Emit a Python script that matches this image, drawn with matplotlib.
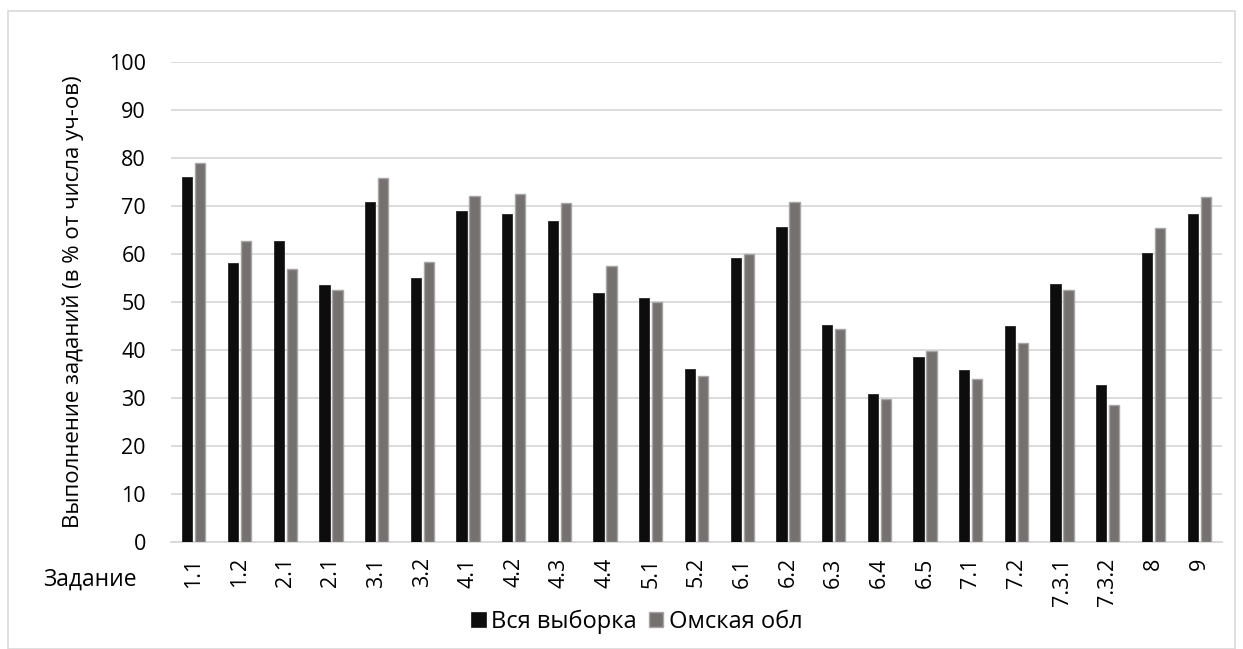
import matplotlib
matplotlib.use("Agg")
import matplotlib.pyplot as plt
import numpy as np
from matplotlib.patches import Rectangle

categories = ["1.1", "1.2", "2.1", "2.1", "3.1", "3.2", "4.1", "4.2", "4.3", "4.4",
              "5.1", "5.2", "6.1", "6.2", "6.3", "6.4", "6.5", "7.1", "7.2",
              "7.3.1", "7.3.2", "8", "9"]
vsya = [76.0, 58.1, 62.7, 53.6, 70.9, 55.1, 69.0, 68.4, 66.9, 51.9,
        50.8, 36.0, 59.1, 65.7, 45.2, 30.8, 38.5, 35.9, 45.0,
        53.7, 32.8, 60.3, 68.3]
omsk = [79.0, 62.8, 56.9, 52.5, 75.8, 58.4, 72.0, 72.4, 70.6, 57.6,
        50.1, 34.6, 60.1, 70.8, 44.4, 29.7, 39.7, 34.0, 41.4,
        52.5, 28.6, 65.5, 71.9]
series_names = ["Вся выборка", "Омская обл"]
yticks = [0, 10, 20, 30, 40, 50, 60, 70, 80, 90, 100]

plt.rcParams['font.family'] = ['Open Sans', 'DejaVu Sans']

W, H = 1243, 649
fig = plt.figure(figsize=(W / 100, H / 100), dpi=100)

# outer chart border
fig.patches.append(Rectangle((8 / W, 0.5 / H), (1235 - 8) / W, (638 - 0.5) / H,
                             transform=fig.transFigure, fill=False,
                             edgecolor="#d9d9d9", linewidth=1.2))

ax = fig.add_axes([171 / W, (H - 542) / H, (1222 - 171) / W, (542 - 62) / H])

x = np.arange(len(categories))
bw = 0.225
off = 0.142
ax.bar(x - off, vsya, width=bw, color="#0d0d0d", edgecolor="#262626",
       linewidth=0.6, label=series_names[0], zorder=3)
ax.bar(x + off, omsk, width=bw, color="#767171", edgecolor="#a6a6a6",
       linewidth=1.0, label=series_names[1], zorder=3)

ax.set_xlim(-0.5, len(categories) - 0.5)
ax.set_ylim(0, 100)
ax.set_yticks(yticks)
ax.yaxis.grid(True, color="#d9d9d9", linewidth=1.3, zorder=0)
ax.set_axisbelow(True)
for s in ["left", "right", "top"]:
    ax.spines[s].set_visible(False)
ax.spines["bottom"].set_color("#d9d9d9")
ax.spines["bottom"].set_linewidth(1.3)
ax.tick_params(axis="both", length=0, labelsize=15.5, colors="black")
ax.tick_params(axis="y", pad=18)
ax.tick_params(axis="x", pad=11)
ax.set_xticks(x)
ax.set_xticklabels(categories, rotation=90, va="top")

ax.set_ylabel("Выполнение заданий (в % от числа уч-ов)", fontsize=16)
ax.yaxis.set_label_coords((84 - 171) / (1222 - 171), 0.5)

fig.text(90 / W, 1 - 580 / H, "Задание", fontsize=16.5, ha="center", va="center")

leg = fig.legend(loc="center", bbox_to_anchor=(637 / W, 1 - 622 / H), ncol=2,
                 frameon=False, fontsize=17, handlelength=0.6, handleheight=0.6,
                 handletextpad=0.25, columnspacing=0.5)

fig.savefig("out.png", dpi=100)
